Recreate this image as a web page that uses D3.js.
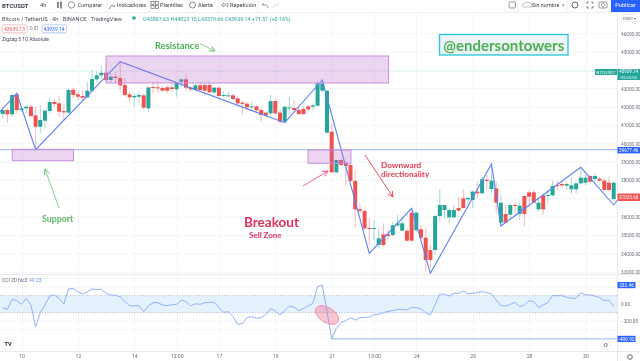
<!DOCTYPE html>
<html><head><meta charset="utf-8">
<script src="https://cdn.jsdelivr.net/npm/d3@7"></script>
<style>
html,body{margin:0;padding:0;background:#fff;overflow:hidden}
svg{display:block;font-family:Roboto,"Liberation Sans",sans-serif;filter:blur(0.35px)}
</style></head><body>
<svg id="c" width="640" height="361"></svg>
<script>
const direction="UDUDUUDDUUUDDDUDDDUUUUDUDDDDUUDUDDDDDUUDDUDDDUDUUDDDDUDDDUDDUUDDDDUUUUDUDDDDDDDUUDDUUUDDUDDDUUUUUDDUUDUDUDUDUDUDDDUDUUDDUUUUUDUDDDUD";
const highs=[41981,41926,42744,42780,42017,42108,42108,42017,42108,41835,42562,42380,42599,42199,43016,43071,42835,42926,43380,44016,43925,44288,44379,43834,43925,44470,43562,42835,42744,42835,42744,43071,43380,43380,43144,43198,43289,43362,43562,43798,43107,43289,43289,43325,43434,43107,43107,42889,42835,42708,42562,42344,42290,42290,42108,41981,41745,42653,42471,41835,42017,42562,42380,42017,42017,42108,42199,43416,43471,42926,41072,39112,39203,39021,38930,38567,36750,36386,35932,35841,35387,35660,35296,35750,36114,36023,35387,36386,36295,35569,35387,34479,36114,37513,36659,36477,36659,37113,37513,37113,37476,37931,38203,38294,38930,37931,37204,36659,36750,36786,36750,37204,37476,37476,37022,37295,37476,37985,37985,37931,37931,38167,37931,38658,38294,38294,38385,38167,38112,38203,37931];
const lows=[41381,41145,41472,41654,41745,41654,41472,39655,40564,40836,41654,42017,41472,41290,41654,42471,42380,42380,42471,42835,43380,43562,43380,43289,43289,42835,42562,42290,42017,42199,41835,41708,42744,42744,42835,42744,42835,42562,43107,42889,42835,42835,42835,42562,42744,42653,42562,42526,42562,42380,42017,41563,41835,41835,41654,41199,41381,41472,41599,41109,41145,41654,41745,41563,41563,41745,41835,42017,42780,40564,38385,38385,38785,37658,37931,35423,36205,35296,34479,34751,34297,34388,34751,34933,35478,35205,34660,34660,35205,34787,33025,33207,33933,35750,35932,35660,35932,36295,36477,36477,36477,37022,37295,37476,37295,36205,35660,35660,35841,36114,35841,35514,36568,36750,36295,36114,36750,37113,37476,37567,37476,37295,37295,37785,37749,37840,37931,37931,37440,37386,36931];
const bodyTops=[41835,41835,42653,42689,41926,42017,42017,41545,41290,41799,42272,42272,42199,41781,42926,42944,42689,42599,42889,43525,43725,43870,43870,43652,43652,43580,43198,42689,42599,42653,42635,43071,43089,43071,43035,43071,43071,43362,43507,43507,43053,43180,43180,43198,43198,43053,43053,42653,42635,42635,42471,42235,42181,42035,42035,41835,41690,42326,42326,41690,42017,41981,41944,41835,41890,42035,42090,43289,43289,42889,40654,39112,39112,38966,38839,37967,36423,36332,35405,35405,34842,35060,35060,35551,35660,35660,35260,36241,36241,35333,34878,34206,36059,36659,36659,36386,36386,36495,37022,37040,37386,37386,38058,38040,37985,37567,36786,36168,36659,36659,36622,37149,37349,37349,36786,37186,37204,37695,37731,37804,37804,37731,37840,38149,38149,38240,38240,38094,37985,37876,37876];
const bodyBottoms=[41617,41599,41599,41835,41835,41926,41508,40927,40927,41254,41781,42163,41745,41708,41690,42653,42562,42508,42526,42889,43507,43725,43471,43471,43580,43180,42653,42526,42526,42562,41963,41926,43035,43016,42889,42889,42980,42962,43380,43053,42962,42926,42926,42889,42798,42798,42599,42617,42617,42435,42199,42163,41981,41981,41817,41563,41545,41654,41654,41199,41199,41944,41835,41617,41617,41872,42017,42072,42889,40600,38440,38440,38839,38785,37967,36423,36332,35387,35369,35369,34479,34479,34969,35024,35551,35260,34715,34715,35296,34878,33661,33661,34206,36059,36386,35987,35987,36350,36495,36968,36931,37295,37295,37967,37531,36786,35696,35696,36132,36604,36168,36168,37113,36786,36423,36423,37149,37186,37676,37731,37713,37513,37513,37840,37876,37931,38076,37985,37476,37476,36986];
const cciValues=[-41,-61,57,41,-2,69,-10,-264,-100,-10,96,108,69,-2,179,186,147,120,147,179,171,175,128,108,104,88,30,-17,-21,-17,-88,-21,18,18,-10,-17,-6,-2,49,30,-21,6,-2,18,22,22,-41,-96,-88,-147,-237,-225,-159,-147,-166,-159,-119,-53,-80,-127,-76,-21,-37,-76,-49,-21,10,206,226,-88,-407,-284,-213,-194,-159,-186,-159,-155,-151,-123,-119,-100,-84,-76,-61,-61,-68,-37,-41,-57,-100,-127,-10,120,116,96,128,128,155,120,128,135,147,135,120,49,-17,-21,-2,22,-29,-10,41,30,-41,-10,18,100,100,100,80,69,69,135,108,108,96,77,41,49,-29];
const zigzagIndex=[-1,3,7,25,60,68,78,87,91,104,106,123,130,131];
const zigzagPrice=[41618,42747,39677,44469,41144,43471,34027,36480,32937,38894,35515,38714,36660,37000];
const gridPrices=[46000,45000,44000,43000,42000,41000,40000,39000,38000,37000,36000,35000,34000,33000];
const priceTicks=[46000,45000,43000,42000,41000,40000,39000,38000,36000,35000,34000,33000];
const cciTicks=[0,-200];
const timeIndex=[4,16,28,37,46,58,70,79,88,100,112,124];
const timeLabels=["10","12","14","13:00","17","19","21","13:00","24","26","28","30"];
const zoneIndexFrom=[22,2.04,64.96];
const zoneIndexTo=[82.1,15.06,74.1];
const zonePriceTop=[44780,39695,39657];
const zonePriceBottom=[43307,39074,38932];

const svg=d3.select("#c");
const x=d3.scaleLinear().domain([0,130]).range([2.7,613.7]);
const y=d3.scaleLinear().domain([46000,33000]).range([33.6,272.15]);
const yc=d3.scaleLinear().domain([232.46,-406.92]).range([284.4,338.8]);
const R=617.5;
const GREEN="#26a69a",RED="#ef5350",AX="#6b6f7a";

const defs=svg.append("defs");
defs.append("clipPath").attr("id","main").append("rect").attr("x",0).attr("y",13).attr("width",R).attr("height",261);
defs.append("clipPath").attr("id","sub").append("rect").attr("x",0).attr("y",275).attr("width",R).attr("height",76);
function marker(id,c){defs.append("marker").attr("id",id).attr("viewBox","0 0 10 10").attr("refX",9).attr("refY",5).attr("markerWidth",7).attr("markerHeight",7).attr("orient","auto-start-reverse").attr("markerUnits","userSpaceOnUse")
 .append("path").attr("d","M1 1L9 5L1 9").attr("fill","none").attr("stroke",c).attr("stroke-width",1.2);}
marker("ag","#66bb6a");marker("ap","#ec407a");marker("ar","#e53950");

// grid
const grid=svg.append("g").attr("stroke","#f4f5f8").attr("stroke-width",1);
grid.selectAll("line.v").data(timeIndex).join("line").attr("x1",d=>Math.round(x(d))+.5).attr("x2",d=>Math.round(x(d))+.5).attr("y1",13).attr("y2",351);
grid.selectAll("line.h").data(gridPrices).join("line").attr("x1",0).attr("x2",R).attr("y1",d=>y(d)).attr("y2",d=>y(d));
grid.selectAll("line.c").data([-300,-200,200,300]).join("line").attr("x1",0).attr("x2",R).attr("y1",d=>yc(d)).attr("y2",d=>yc(d));

// main pane
const main=svg.append("g").attr("clip-path","url(#main)");
main.append("line").attr("x1",0).attr("x2",595).attr("y1",y(43939)).attr("y2",y(43939)).attr("stroke","#cdeee9").attr("stroke-dasharray","1 1").attr("stroke-width",1);
main.append("line").attr("x1",0).attr("x2",R).attr("y1",y(39677.46)).attr("y2",y(39677.46)).attr("stroke","#a9c4ff").attr("stroke-width",1.1);
const col=i=>direction[i]==="U"?GREEN:RED;
main.selectAll("line.w").data(highs).join("line").attr("x1",(d,i)=>x(i)).attr("x2",(d,i)=>x(i)).attr("y1",d=>y(d)).attr("y2",(d,i)=>y(lows[i])).attr("stroke",(d,i)=>col(i)).attr("stroke-opacity",.42).attr("stroke-width",1);
main.selectAll("rect.b").data(bodyTops).join("rect").attr("x",(d,i)=>x(i)-2).attr("width",4).attr("y",d=>y(d)).attr("height",(d,i)=>Math.max(1,y(bodyBottoms[i])-y(d))).attr("fill",(d,i)=>col(i));
main.append("path").attr("d",d3.line().x((d,i)=>x(d)).y((d,i)=>y(zigzagPrice[i]))(zigzagIndex)).attr("fill","none").attr("stroke","#5b82f5").attr("stroke-width",1.1);
main.selectAll("rect.z").data(zoneIndexFrom).join("rect").attr("x",d=>x(d)).attr("width",(d,i)=>x(zoneIndexTo[i])-x(d)).attr("y",(d,i)=>y(zonePriceTop[i])).attr("height",(d,i)=>y(zonePriceBottom[i])-y(zonePriceTop[i])).attr("fill","#b868c8").attr("fill-opacity",.28).attr("stroke","#c98fdc").attr("stroke-width",1);

// CCI pane
const sub=svg.append("g").attr("clip-path","url(#sub)");
sub.append("rect").attr("x",0).attr("width",R).attr("y",yc(100)).attr("height",yc(-100)-yc(100)).attr("fill","#e5f2fd");
sub.selectAll("line.d").data([100,-100]).join("line").attr("x1",0).attr("x2",R).attr("y1",d=>yc(d)).attr("y2",d=>yc(d)).attr("stroke","#b5bac6").attr("stroke-dasharray","1.2 1.6").attr("stroke-width",1);
sub.append("line").attr("x1",x(70)).attr("x2",R).attr("y1",yc(-406.92)).attr("y2",yc(-406.92)).attr("stroke","#b9cdfb").attr("stroke-width",1.6);
sub.append("path").attr("d",d3.line().x((d,i)=>x(i)).y(d=>yc(d))(cciValues)).attr("fill","none").attr("stroke","#8fb0fb").attr("stroke-width",1);
svg.append("ellipse").attr("cx",327).attr("cy",315).attr("rx",13).attr("ry",7.5).attr("transform","rotate(32 327 315)").attr("fill","#ee6a8c").attr("fill-opacity",.38).attr("stroke","#f08aa5").attr("stroke-width",.8);

// axes
svg.append("line").attr("x1",0).attr("x2",640).attr("y1",274.5).attr("y2",274.5).attr("stroke","#e6e8ee");
svg.append("line").attr("x1",0).attr("x2",640).attr("y1",351.5).attr("y2",351.5).attr("stroke","#e6e8ee");
svg.append("line").attr("x1",0).attr("x2",640).attr("y1",12.5).attr("y2",12.5).attr("stroke","#eceef2");
svg.append("line").attr("x1",R).attr("x2",R).attr("y1",12).attr("y2",361).attr("stroke","#e6e8ee");
function styleAxis(g){g.select(".domain").remove();g.selectAll(".tick line").remove();g.selectAll("text").attr("fill",AX).style("font-size","4.7px").style("font-family","Roboto,sans-serif");}
svg.append("g").attr("transform",`translate(${R},0)`).call(d3.axisRight(y).tickValues(priceTicks).tickFormat(d3.format(".2f")).tickSize(0).tickPadding(3.5)).call(styleAxis);
svg.append("g").attr("transform",`translate(${R},0)`).call(d3.axisRight(yc).tickValues(cciTicks).tickFormat(d3.format(".2f")).tickSize(0).tickPadding(3.5)).call(styleAxis);
svg.append("g").attr("transform","translate(0,351)").call(d3.axisBottom(x).tickValues(timeIndex).tickFormat((d,i)=>timeLabels[i]).tickSize(0).tickPadding(3)).call(g=>{styleAxis(g);g.selectAll("text").style("font-size","5.2px");});

function T(s,px,py,o={}){return svg.append("text").text(s).attr("x",px).attr("y",py).attr("dominant-baseline","central").attr("text-anchor",o.a||"start").attr("fill",o.c||"#3a3e4a").attr("font-size",o.s||5.6).attr("font-weight",o.w||400).attr("font-family",o.f||null);}
function tag(px,py,w,h,c){svg.append("rect").attr("x",px).attr("y",py).attr("width",w).attr("height",h).attr("fill",c);}

// price tags
tag(595,69,22,6,"#26a69a");T("BTCUSDT",606,72,{s:4.4,c:"#e8f6f4",a:"middle"});
tag(617.5,69,22.5,11,"#26a69a");T("43939.14",628.7,71.8,{s:4.5,c:"#fff",a:"middle"});T("03:53:00",628.7,77.2,{s:4.3,c:"#e0f3f1",a:"middle"});
tag(617.5,147,22.5,6.4,"#2962ff");T("39677.46",628.7,150.2,{s:4.6,c:"#fff",a:"middle"});
tag(617.5,193.5,22.5,7.5,"#ef5350");T("37025.68",628.7,197.3,{s:4.6,c:"#fff",a:"middle"});
tag(617.5,282,18,6.2,"#2962ff");T("232.46",626.5,285,{s:4.8,c:"#fff",a:"middle"});
tag(617.5,335.8,18,6.2,"#2962ff");T("-406.92",626.5,339,{s:4.8,c:"#fff",a:"middle"});
svg.append("rect").attr("x",621.5).attr("y",14.5).attr("width",16).attr("height",7).attr("rx",1.5).attr("fill","#fff").attr("stroke","#dcdfe6").attr("stroke-width",.6);
T("USDT ▾",629.5,18,{s:4.2,a:"middle",c:"#555"});

// toolbar
T("BTCUSDT",2,5,{s:6,w:700});
T("4h",40,5,{s:5.6,a:"start"});
svg.append("path").attr("d","M58 2v6M61 1.5v7").attr("stroke","#555").attr("stroke-width",1.4).attr("fill","none");
svg.append("circle").attr("cx",71.5).attr("cy",5).attr("r",3.2).attr("fill","none").attr("stroke","#555").attr("stroke-width",.6);
T("Comparar",77.5,5,{s:5.6});
svg.append("path").attr("d","M109 9L112 5L114 7L115 5").attr("stroke","#555").attr("stroke-width",.7).attr("fill","none");
T("Indicadores",117,5,{s:5.6});
svg.selectAll("rect.tp").data([[151,1.5],[155.5,1.5],[151,5.5],[155.5,5.5]]).join("rect").attr("x",d=>d[0]).attr("y",d=>d[1]).attr("width",3).attr("height",3).attr("fill","none").attr("stroke","#555").attr("stroke-width",.6);
T("Plantillas",160,5,{s:5.6});
svg.append("circle").attr("cx",192.5).attr("cy",5).attr("r",3).attr("fill","none").attr("stroke","#555").attr("stroke-width",.7);
T("Alerta",198,5,{s:5.6});
svg.append("path").attr("d","M224 3L221 5L224 7ZM228 3L225 5L228 7Z").attr("stroke","#555").attr("stroke-width",.5).attr("fill","none");
T("Repetición",230,5,{s:5.6});
svg.append("path").attr("d","M262 5L264 3M262 5L266 5Q268 6 268 8").attr("stroke","#555").attr("stroke-width",.6).attr("fill","none");
svg.append("path").attr("d","M279 5L277 3M279 5L275 5Q273 6 273 8").attr("stroke","#c4c6cc").attr("stroke-width",.6).attr("fill","none");
[107,149,188,218,258].forEach(v=>svg.append("line").attr("x1",v).attr("x2",v).attr("y1",0).attr("y2",12).attr("stroke","#eceef2"));
[505,518,567,584,597,610].forEach(v=>svg.append("line").attr("x1",v).attr("x2",v).attr("y1",0).attr("y2",12).attr("stroke","#f0f1f4"));
svg.append("rect").attr("x",509).attr("y",2).attr("width",6.5).attr("height",6).attr("rx",1).attr("fill","none").attr("stroke","#555").attr("stroke-width",.6);
svg.append("path").attr("d","M523 7q-2-3 1-3q1-2.5 4-1.5q2.5-.5 3 1.5q2 .5 1 3Z").attr("fill","none").attr("stroke","#888").attr("stroke-width",.5);
T("Sin nombre",532,5,{s:5.4});
T("▾",562,5,{s:5,c:"#888"});
svg.append("circle").attr("cx",575).attr("cy",5).attr("r",3).attr("fill","none").attr("stroke","#555").attr("stroke-width",.9);
svg.append("path").attr("d","M587 4V2H589M591 2H593V4M593 6V8H591M589 8H587V6").attr("stroke","#555").attr("stroke-width",.7).attr("fill","none");
svg.append("rect").attr("x",599).attr("y",2).attr("width",8).attr("height",6).attr("rx",1).attr("fill","none").attr("stroke","#555").attr("stroke-width",.6);
svg.append("circle").attr("cx",603).attr("cy",5).attr("r",1.6).attr("fill","none").attr("stroke","#555").attr("stroke-width",.5);
tag(611,0,29,12,"#2962ff");T("Publicar",625.5,5,{s:5.6,c:"#fff",a:"middle"});

// legend
T("Bitcoin / TetherUS · 4h · BINANCE · TradingView",2,18.5,{s:5.7,c:"#4a4e5a"});
svg.append("circle").attr("cx",134).attr("cy",18).attr("r",1.8).attr("fill","#26a69a");
T("O43867.63 H44023.15 L43579.66 C43939.14 +71.51 (+0.16%)",143,18.7,{s:5.35,c:"#26a69a"});
svg.append("rect").attr("x",2).attr("y",24.8).attr("width",25).attr("height",8).attr("rx",1.5).attr("fill","#fff").attr("stroke","#f7a9a7").attr("stroke-width",.7);
T("43939.13",14.5,28.9,{s:5,c:"#ef5350",a:"middle"});
T("0.01",30,28.9,{s:4.6,c:"#777"});
svg.append("rect").attr("x",42).attr("y",24.8).attr("width",24.5).attr("height",8).attr("rx",1.5).attr("fill","#fff").attr("stroke","#a3bafc").attr("stroke-width",.7);
T("43939.14",54.2,28.9,{s:5,c:"#2962ff",a:"middle"});
T("Zigzag 5 10 Absolute",2,38.7,{s:5,c:"#4a4e5a"});
T("CCI 20 hlc3",2,280.3,{s:5,c:"#5a5e6a"});
T("49.23",29,280.3,{s:5,c:"#6f94f5"});

// annotations
const F="Lato,sans-serif";
T("Resistance",155,45,{s:9.4,w:700,c:"#4caf50",f:F});
svg.append("line").attr("x1",200).attr("y1",43.5).attr("x2",215).attr("y2",51).attr("stroke","#66bb6a").attr("stroke-width",.8).attr("marker-end","url(#ag)");
T("Support",42,218,{s:8.8,w:700,c:"#5cb860",f:F});
svg.append("line").attr("x1",59).attr("y1",208).attr("x2",45).attr("y2",169).attr("stroke","#81c784").attr("stroke-width",.9).attr("marker-end","url(#ag)");
T("Breakout",244,222,{s:13.5,w:700,c:"#e0305c",f:F});
T("Sell Zone",249,235,{s:8,w:700,c:"#e0305c",f:F});
svg.append("line").attr("x1",303).attr("y1",186).attr("x2",328).attr("y2",171).attr("stroke","#ec407a").attr("stroke-width",.8).attr("marker-end","url(#ap)");
T("Downward",381,165,{s:8.2,w:700,c:"#e53950",f:F});
T("directionality",381,174,{s:8.2,w:700,c:"#e53950",f:F});
svg.append("line").attr("x1",365).attr("y1",155).attr("x2",393).attr("y2",197).attr("stroke","#e53950").attr("stroke-width",.9).attr("marker-end","url(#ar)");
svg.append("rect").attr("x",439.5).attr("y",34.5).attr("width",128.5).attr("height",20.5).attr("fill","#eef3f8").attr("stroke","#26c6da").attr("stroke-width",1.3);
T("@endersontowers",503.8,45,{s:15,w:700,c:"#4caf50",a:"middle",f:F});

// widgets
svg.append("circle").attr("cx",8).attr("cy",344).attr("r",6).attr("fill","#fff").attr("stroke","#eceef2");
T("TV",8,344,{s:5.5,w:700,c:"#222",a:"middle"});
svg.append("circle").attr("cx",605.7).attr("cy",345).attr("r",5).attr("fill","#fff").attr("stroke","#eceef2");
svg.append("circle").attr("cx",605.7).attr("cy",345).attr("r",1.6).attr("fill","none").attr("stroke","#555").attr("stroke-width",.7);
svg.append("circle").attr("cx",630).attr("cy",357).attr("r",2.3).attr("fill","none").attr("stroke","#666").attr("stroke-width",1);
</script>
</body></html>
